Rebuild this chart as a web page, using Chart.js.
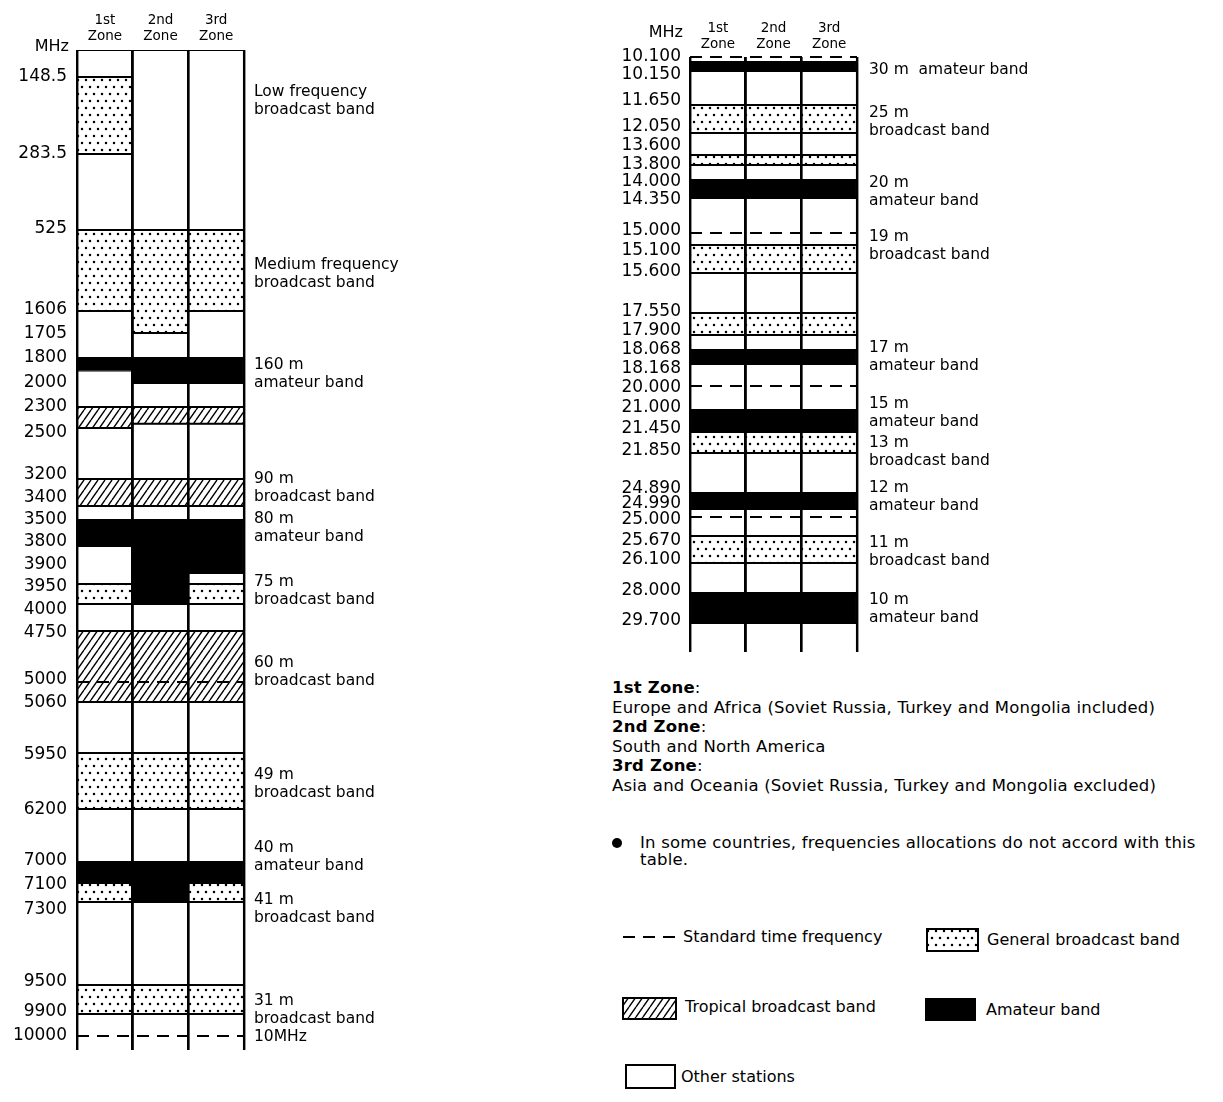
<!DOCTYPE html>
<html>
<head>
<meta charset="utf-8">
<title>Broadcast and amateur band allocation by zone</title>
<script src="https://cdn.jsdelivr.net/npm/chart.js@4.4.1/dist/chart.umd.min.js"></script>
<style>
  body { margin: 0; background: #fff; width: 1223px; height: 1102px; position: relative; overflow: hidden;
         font-family: 'DejaVu Sans', sans-serif; color: #000; }
  canvas { position: absolute; top: 0; }
  #leftChart { left: 0; }
  #rightChart { left: 600px; }
  .zones { position: absolute; left: 612px; top: 678px; font-size: 16.5px; letter-spacing: 0.2px; line-height: 19.5px; white-space: nowrap; }
  .note { position: absolute; left: 640px; top: 834px; font-size: 16.5px; letter-spacing: 0.2px; line-height: 17px; white-space: nowrap; }
  .note .dot { position: absolute; left: -28px; top: 4px; width: 10px; height: 10px; border-radius: 50%; background: #000; }
  .key { position: absolute; font-size: 16px; line-height: 20px; white-space: nowrap; }
  .swatch { position: absolute; }
</style>
</head>
<body>
<canvas id="leftChart" width="600" height="1070"></canvas>
<canvas id="rightChart" width="623" height="670"></canvas>

<div class="zones">
  <div><b>1st Zone</b>:</div>
  <div>Europe and Africa (Soviet Russia, Turkey and Mongolia included)</div>
  <div><b>2nd Zone</b>:</div>
  <div>South and North America</div>
  <div><b>3rd Zone</b>:</div>
  <div>Asia and Oceania (Soviet Russia, Turkey and Mongolia excluded)</div>
</div>
<div class="note"><span class="dot"></span>In some countries, frequencies allocations do not accord with this<br>table.</div>

<canvas class="swatch" id="keyTime" width="56" height="6" style="left:622px; top:934px;"></canvas>
<div class="key" style="left:683px; top:927px;">Standard time frequency</div>
<canvas class="swatch" id="keyGeneral" width="53" height="24" style="left:926px; top:928px;"></canvas>
<div class="key" style="left:987px; top:930px;">General broadcast band</div>
<canvas class="swatch" id="keyTropical" width="55" height="23" style="left:622px; top:997px;"></canvas>
<div class="key" style="left:685px; top:997px;">Tropical broadcast band</div>
<canvas class="swatch" id="keyAmateur" width="51" height="23" style="left:925px; top:998px;"></canvas>
<div class="key" style="left:986px; top:1000px;">Amateur band</div>
<canvas class="swatch" id="keyOther" width="51" height="25" style="left:625px; top:1064px;"></canvas>
<div class="key" style="left:681px; top:1067px;">Other stations</div>

<script>
/* ===== Data ===== */
const zoneLabels = [['1st', 'Zone'], ['2nd', 'Zone'], ['3rd', 'Zone']];

// Left panel: up to 10 MHz, figures in kHz (headed "MHz" as in the original)
const leftTicks = [148.5, 283.5, 525, 1606, 1705, 1800, 2000, 2300, 2500, 3200, 3400, 3500, 3800,
  3900, 3950, 4000, 4750, 5000, 5060, 5950, 6200, 7000, 7100, 7300, 9500, 9900, 10000];

const leftZone1Edges = [0, 148.5, 283.5, 525, 1606, 1800, 1900, 2300, 2500, 3200, 3400, 3500, 3800,
  3950, 4000, 4750, 5060, 5950, 6200, 7000, 7100, 7300, 9500, 9900, 10100];
const leftZone1Kinds = ['other', 'general', 'other', 'general', 'other', 'amateur', 'other', 'tropical',
  'other', 'tropical', 'other', 'amateur', 'other', 'general', 'other', 'tropical', 'other', 'general',
  'other', 'amateur', 'general', 'other', 'general', 'other'];

const leftZone2Edges = [0, 525, 1705, 1800, 2000, 2300, 2460, 3200, 3400, 3500, 4000, 4750, 5060,
  5950, 6200, 7000, 7300, 9500, 9900, 10100];
const leftZone2Kinds = ['other', 'general', 'other', 'amateur', 'other', 'tropical', 'other', 'tropical',
  'other', 'amateur', 'other', 'tropical', 'other', 'general', 'other', 'amateur', 'other', 'general', 'other'];

const leftZone3Edges = [0, 525, 1606, 1800, 2000, 2300, 2460, 3200, 3400, 3500, 3900, 3950, 4000,
  4750, 5060, 5950, 6200, 7000, 7100, 7300, 9500, 9900, 10100];
const leftZone3Kinds = ['other', 'general', 'other', 'amateur', 'other', 'tropical', 'other', 'tropical',
  'other', 'amateur', 'other', 'general', 'other', 'tropical', 'other', 'general', 'other', 'amateur',
  'general', 'other', 'general', 'other'];

const leftTimeFreqs = [5000, 10000];
const leftNotes = [['Low frequency', 'broadcast band'], ['Medium frequency', 'broadcast band'],
  ['160 m', 'amateur band'], ['90 m', 'broadcast band'], ['80 m', 'amateur band'],
  ['75 m', 'broadcast band'], ['60 m', 'broadcast band'], ['49 m', 'broadcast band'],
  ['40 m', 'amateur band'], ['41 m', 'broadcast band'], ['31 m', 'broadcast band'], '10MHz'];
const leftNoteFreqs = [148.5, 525, 1800, 3200, 3500, 3950, 4750, 5950, 7000, 7100, 9500, 10000];

// Right panel: 10 – 30 MHz, same plan in all three zones
const rightTicks = [10.1, 10.15, 11.65, 12.05, 13.6, 13.8, 14.0, 14.35, 15.0, 15.1, 15.6, 17.55, 17.9,
  18.068, 18.168, 20.0, 21.0, 21.45, 21.85, 24.89, 24.99, 25.0, 25.67, 26.1, 28.0, 29.7];

const rightEdges = [10.0, 10.1, 10.15, 11.65, 12.05, 13.6, 13.8, 14.0, 14.35, 15.1, 15.6, 17.55, 17.9,
  18.068, 18.168, 21.0, 21.45, 21.85, 24.89, 24.99, 25.67, 26.1, 28.0, 29.7, 30.0];
const rightKinds = ['other', 'amateur', 'other', 'general', 'other', 'general', 'other', 'amateur',
  'other', 'general', 'other', 'general', 'other', 'amateur', 'other', 'amateur', 'general', 'other',
  'amateur', 'other', 'general', 'other', 'amateur', 'other'];

const rightTimeFreqs = [10.0, 15.0, 20.0, 25.0];
const rightNotes = ['30 m  amateur band', ['25 m', 'broadcast band'], ['20 m', 'amateur band'],
  ['19 m', 'broadcast band'], ['17 m', 'amateur band'], ['15 m', 'amateur band'],
  ['13 m', 'broadcast band'], ['12 m', 'amateur band'], ['11 m', 'broadcast band'], ['10 m', 'amateur band']];
const rightNoteFreqs = [10.1, 11.65, 14.0, 15.1, 18.068, 21.0, 21.45, 24.89, 25.67, 28.0];

/* ===== Layout: the scale is schematic, so each panel gets row positions (px from plot top) ===== */
const leftBandRows = [[0, 0], [148.5, 27], [283.5, 104], [525, 180], [1606, 261], [1705, 283],
  [1800, 308], [2000, 333], [2300, 357], [2500, 378], [3200, 429], [3400, 456], [3500, 470],
  [3800, 496], [3900, 523], [3950, 534], [4000, 554], [4750, 581], [5000, 632], [5060, 652],
  [5950, 703], [6200, 759], [7000, 812], [7100, 833], [7300, 852], [9500, 935], [9900, 964],
  [10000, 986], [10100, 1000]];
const leftTickRows = [27, 104, 179, 260, 284, 308, 333, 357, 383, 425, 448, 470, 492, 515, 537, 560,
  583, 630, 653, 705, 760, 811, 835, 860, 932, 962, 986];
const leftNoteRows = [51, 224, 324, 438, 478, 541, 622, 734, 807, 859, 960, 987];

const rightBandRows = [[10.0, 0], [10.1, 5], [10.15, 14], [11.65, 48], [12.05, 76], [13.6, 98],
  [13.8, 108], [14.0, 123], [14.35, 141], [15.0, 176], [15.1, 188], [15.6, 216], [17.55, 256],
  [17.9, 278], [18.068, 293], [18.168, 307], [20.0, 329], [21.0, 353], [21.45, 375], [21.85, 396],
  [24.89, 436], [24.99, 452], [25.0, 460], [25.67, 479], [26.1, 506], [28.0, 536], [29.7, 566], [30.0, 595]];
const rightTickRows = [0, 18, 44, 70, 89, 108, 125, 143, 174, 194, 215, 255, 274, 293, 312, 331, 351,
  372, 394, 432, 447, 463, 484, 503, 534, 564];
const rightNoteRows = [13, 65, 135, 189, 300, 356, 395, 440, 495, 552];

/* ===== Chart.js setup ===== */
const INK = '#000';
const FONT = "'DejaVu Sans', sans-serif";
Chart.defaults.font.family = FONT;
Chart.defaults.color = INK;

// Piecewise-linear value axis: maps values to schematic rows between given stops
class StretchScale extends Chart.LinearScale {
  static id = 'stretch';
  static defaults = Chart.LinearScale.defaults;

  rowOf(v) {
    const s = this.options.stops;
    if (v <= s[0][0]) return s[0][1];
    for (let i = 1; i < s.length; i++) {
      if (v <= s[i][0]) {
        const [v0, r0] = s[i - 1];
        const [v1, r1] = s[i];
        return r0 + (v - v0) / (v1 - v0) * (r1 - r0);
      }
    }
    return s[s.length - 1][1];
  }
  getPixelForValue(v) {
    return this.getPixelForDecimal(this.rowOf(v) / this.options.rows);
  }
  buildTicks() {
    return (this.options.tickValues || []).map(value => ({ value }));
  }
}
Chart.register(StretchScale);

/* ===== Fill patterns ===== */
function tile(w, h, paint) {
  const c = document.createElement('canvas');
  c.width = w; c.height = h;
  const g = c.getContext('2d');
  g.fillStyle = '#fff';
  g.fillRect(0, 0, w, h);
  paint(g);
  return g.createPattern(c, 'repeat');
}

const fills = {
  other: '#fff',
  amateur: INK,
  general: tile(8, 14, g => {
    g.fillStyle = INK;
    [[2, 3], [6, 10]].forEach(([x, y]) => {
      g.beginPath(); g.arc(x, y, 1.25, 0, Math.PI * 2); g.fill();
    });
  }),
  tropical: tile(7, 10, g => {
    g.strokeStyle = INK; g.lineWidth = 1.4;
    g.beginPath();
    [-7, 0, 7].forEach(dx => { g.moveTo(dx, 10); g.lineTo(dx + 7, 0); });
    g.stroke();
  })
};

/* ===== "MHz" unit over the tick column ===== */
const unitLabel = {
  id: 'unitLabel',
  afterDraw(chart, args, opts) {
    const { ctx } = chart;
    const axis = chart.scales.yl;
    ctx.save();
    ctx.font = `16px ${FONT}`;
    ctx.fillStyle = INK;
    ctx.textAlign = 'right';
    ctx.textBaseline = 'middle';
    ctx.fillText(opts.text, axis.right - opts.padding, opts.y);
    ctx.restore();
  }
};

function fixSize(size) {
  return scale => {
    Object.assign(scale, size);
    scale.paddingTop = scale.paddingBottom = scale.paddingLeft = scale.paddingRight = 0;
  };
}

/* ===== Panel ===== */
function initPanel(id, p) {
  const segCount = Math.max(...p.zones.map(z => z.kinds.length));
  const lastValue = p.bandRows[p.bandRows.length - 1][0];

  const bars = [];
  for (let i = 0; i < segCount; i++) {
    bars.push({
      type: 'bar',
      order: 1,
      data: p.zones.map(z => i < z.kinds.length ? [z.edges[i], z.edges[i + 1]] : null),
      backgroundColor: p.zones.map(z => fills[z.kinds[i]] || 'transparent'),
      borderColor: INK,
      borderWidth: 1.4,
      borderSkipped: ctx => {
        const z = p.zones[ctx.dataIndex];
        if (i === z.kinds.length - 1) return 'end';
        if (i === 0 && p.openTop) return 'start';
        return false;
      },
      grouped: false,
      categoryPercentage: 1,
      barPercentage: 1
    });
  }

  const dashes = p.timeFreqs.map(f => ({
    type: 'line',
    order: 0,
    xAxisID: 'x2',
    data: [{ x: 0, y: f }, { x: 1, y: f }],
    borderColor: INK,
    borderWidth: 2,
    borderDash: [12, 8],
    pointRadius: 0,
    fill: false,
    clip: false
  }));

  new Chart(document.getElementById(id), {
    type: 'bar',
    data: { labels: zoneLabels, datasets: [...bars, ...dashes] },
    options: {
      responsive: false,
      animation: false,
      events: [],
      layout: { padding: { top: 0, left: 0, right: 0, bottom: p.bottomPad } },
      scales: {
        x: {
          type: 'category',
          position: 'top',
          offset: true,
          grid: { offset: true, color: INK, lineWidth: 2.4, drawTicks: false, z: 1 },
          border: { display: false },
          ticks: { font: { size: 13.5, lineHeight: 1.2 }, padding: p.headPad, maxRotation: 0, autoSkip: false },
          afterFit: fixSize({ height: p.plotTop })
        },
        x2: { type: 'linear', display: false, offset: false, grid: { offset: false }, min: 0, max: 1 },
        y: {
          type: 'stretch', display: false, reverse: true,
          stops: p.bandRows, rows: p.rows, min: p.bandRows[0][0], max: lastValue
        },
        yl: {
          type: 'stretch', position: 'left', reverse: true,
          stops: p.ticks.map((v, i) => [v, p.tickRows[i]]), rows: p.rows, tickValues: p.ticks,
          min: p.ticks[0], max: p.ticks[p.ticks.length - 1],
          grid: { display: false, drawTicks: false },
          border: { display: false },
          ticks: { font: { size: 17 }, padding: p.tickPad, autoSkip: false, callback: (v, i) => p.tickText(p.ticks[i]) },
          afterFit: fixSize({ width: p.leftWidth })
        },
        yr: {
          type: 'stretch', position: 'right', reverse: true,
          stops: p.noteFreqs.map((v, i) => [v, p.noteRows[i]]), rows: p.rows, tickValues: p.noteFreqs,
          min: p.noteFreqs[0], max: p.noteFreqs[p.noteFreqs.length - 1],
          grid: { display: false, drawTicks: false },
          border: { display: false },
          ticks: { font: { size: 15.5, lineHeight: 1.17 }, padding: p.notePad, autoSkip: false, callback: (v, i) => p.notes[i] },
          afterFit: fixSize({ width: p.rightWidth })
        }
      },
      plugins: {
        legend: { display: false },
        tooltip: { enabled: false },
        unitLabel: { text: 'MHz', y: p.unitY, padding: p.tickPad - 2 }
      }
    },
    plugins: [unitLabel]
  });
}

/* ===== Key swatches ===== */
function drawSwatch(id, fill) {
  const c = document.getElementById(id);
  const g = c.getContext('2d');
  g.fillStyle = fill;
  g.fillRect(0, 0, c.width, c.height);
  g.strokeStyle = INK;
  g.lineWidth = 2;
  g.strokeRect(1, 1, c.width - 2, c.height - 2);
}

function drawTimeKey() {
  const c = document.getElementById('keyTime');
  const g = c.getContext('2d');
  g.strokeStyle = INK;
  g.lineWidth = 2;
  g.setLineDash([12, 8]);
  g.beginPath(); g.moveTo(1, 3); g.lineTo(c.width, 3); g.stroke();
}

/* ===== Init ===== */
initPanel('leftChart', {
  zones: [
    { edges: leftZone1Edges, kinds: leftZone1Kinds },
    { edges: leftZone2Edges, kinds: leftZone2Kinds },
    { edges: leftZone3Edges, kinds: leftZone3Kinds }
  ],
  bandRows: leftBandRows, rows: 1000,
  ticks: leftTicks, tickRows: leftTickRows, tickText: v => String(v),
  notes: leftNotes, noteFreqs: leftNoteFreqs, noteRows: leftNoteRows,
  timeFreqs: leftTimeFreqs,
  plotTop: 50, bottomPad: 20, leftWidth: 77, rightWidth: 356,
  headPad: 5, tickPad: 10, notePad: 10, unitY: 47, openTop: false
});

initPanel('rightChart', {
  zones: [
    { edges: rightEdges, kinds: rightKinds },
    { edges: rightEdges, kinds: rightKinds },
    { edges: rightEdges, kinds: rightKinds }
  ],
  bandRows: rightBandRows, rows: 595,
  ticks: rightTicks, tickRows: rightTickRows, tickText: v => v.toFixed(3),
  notes: rightNotes, noteFreqs: rightNoteFreqs, noteRows: rightNoteRows,
  timeFreqs: rightTimeFreqs,
  plotTop: 57, bottomPad: 18, leftWidth: 90, rightWidth: 366,
  headPad: 4, tickPad: 9, notePad: 12, unitY: 33, openTop: true
});

drawTimeKey();
drawSwatch('keyGeneral', fills.general);
drawSwatch('keyTropical', fills.tropical);
drawSwatch('keyAmateur', fills.amateur);
drawSwatch('keyOther', fills.other);
</script>
</body>
</html>
